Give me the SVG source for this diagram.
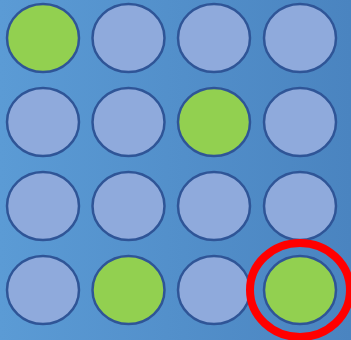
<svg xmlns="http://www.w3.org/2000/svg" width="351" height="340" viewBox="0 0 351 340">
<defs>
<linearGradient id="bg" x1="0" y1="0" x2="1" y2="0">
<stop offset="0" stop-color="#5b9bd5"/>
<stop offset="1" stop-color="#4a84c0"/>
</linearGradient>
<style>
.c{stroke:#2f5597;stroke-width:2.5}
.b{fill:#8faadc}
.g{fill:#92d050}
</style>
</defs>
<rect width="351" height="340" fill="url(#bg)"/>
<g id="r0c0"><ellipse class="c g" cx="43" cy="38" rx="36" ry="34"/></g>
<g id="r0c1"><ellipse class="c b" cx="128.5" cy="38" rx="36" ry="34"/></g>
<g id="r0c2"><ellipse class="c b" cx="214" cy="38" rx="36" ry="34"/></g>
<g id="r0c3"><ellipse class="c b" cx="300" cy="38" rx="36" ry="34"/></g>
<g id="r1c0"><ellipse class="c b" cx="43" cy="122" rx="36" ry="34"/></g>
<g id="r1c1"><ellipse class="c b" cx="128.5" cy="122" rx="36" ry="34"/></g>
<g id="r1c2"><ellipse class="c g" cx="214" cy="122" rx="36" ry="34"/></g>
<g id="r1c3"><ellipse class="c b" cx="300" cy="122" rx="36" ry="34"/></g>
<g id="r2c0"><ellipse class="c b" cx="43" cy="206" rx="36" ry="34"/></g>
<g id="r2c1"><ellipse class="c b" cx="128.5" cy="206" rx="36" ry="34"/></g>
<g id="r2c2"><ellipse class="c b" cx="214" cy="206" rx="36" ry="34"/></g>
<g id="r2c3"><ellipse class="c b" cx="300" cy="206" rx="36" ry="34"/></g>
<g id="r3c0"><ellipse class="c b" cx="43" cy="290" rx="36" ry="34"/></g>
<g id="r3c1"><ellipse class="c g" cx="128.5" cy="290" rx="36" ry="34"/></g>
<g id="r3c2"><ellipse class="c b" cx="214" cy="290" rx="36" ry="34"/></g>
<g id="r3c3"><ellipse class="c g" cx="300" cy="290" rx="36" ry="34"/></g>
<g id="highlight"><ellipse cx="300" cy="290" rx="50" ry="47" fill="none" stroke="#ff0000" stroke-width="8"/></g>
</svg>
